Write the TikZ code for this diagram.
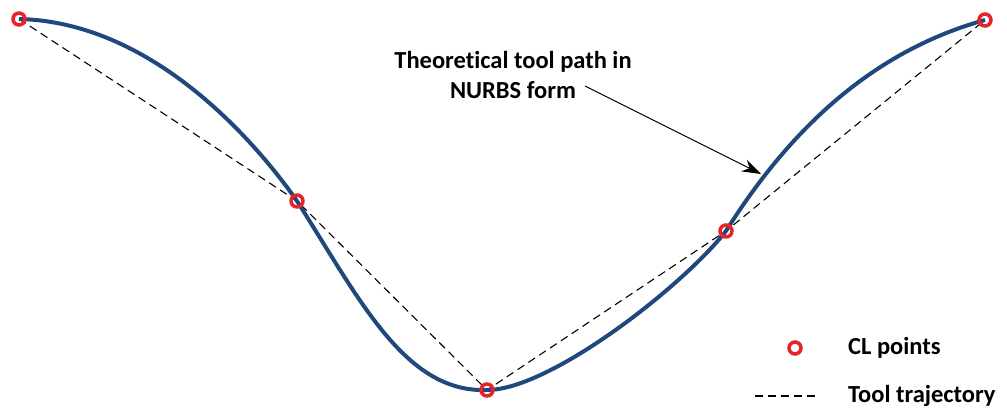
\documentclass[tikz,border=0pt]{standalone}
\usepackage{fontspec}
\setmainfont{Carlito}[Ligatures=NoCommon]
\usetikzlibrary{arrows.meta}
\definecolor{pathblue}{RGB}{31,73,125}
\definecolor{clred}{RGB}{232,34,40}
\tikzset{
  nurbs/.style={draw=pathblue,line width=4pt},
  traj/.style={draw=black,line width=1.1pt,dash pattern=on 8pt off 5pt},
  clpt/.style={circle,draw=clred,line width=3.5pt,minimum size=12pt,inner sep=0pt},
  lbl/.style={font=\bfseries\fontsize{24.5}{30}\selectfont,inner sep=0pt},
  callout/.style={draw=black,line width=1.1pt,-{Stealth[length=19pt,width=13pt]}}
}
\begin{document}
\begin{tikzpicture}[x=1pt,y=-1pt]
\useasboundingbox (0,0) rectangle (1007,412);
\coordinate (p1) at (19,19);
\coordinate (p2) at (297,201);
\coordinate (p3) at (487,390);
\coordinate (p4) at (726,231);
\coordinate (p5) at (985,20);
\draw[traj] (p1) -- (p2) -- (p3) -- (p4) -- (p5);
\draw[nurbs] (p1) .. controls (150,22) and (252,137) .. (p2)
  .. controls (360,300) and (405,393) .. (p3)
  .. controls (550,390) and (683,286) .. (p4)
  .. controls (805,105) and (895,45) .. (p5);
\foreach \p in {p1,p2,p3,p4,p5} \node[clpt] (c\p) at (\p) {};
\node[lbl,align=center] (title) at (513,75) {Theoretical tool path in\\NURBS form};
\coordinate (tip) at (761,174);
\coordinate (start) at (585,86);
\draw[callout] (start) -- (tip);
\node[clpt] (legpt) at (795,348) {};
\node[lbl,anchor=west] (legpttxt) at (848,348) {CL points};
\coordinate (la) at (755,396);
\coordinate (lb) at (818,396);
\draw[traj] (la) -- (lb);
\node[lbl,anchor=west] (legtrtxt) at (848,396) {Tool trajectory};
\end{tikzpicture}
\end{document}
